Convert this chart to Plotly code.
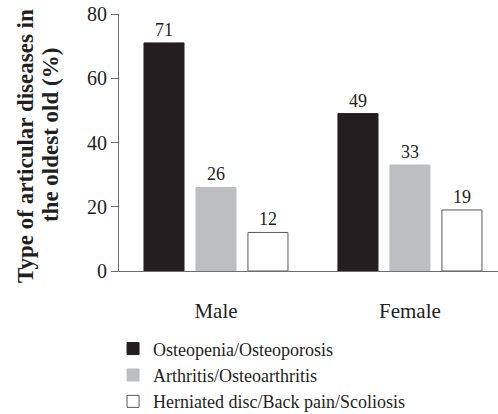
import plotly.graph_objects as go

categories = ["Male", "Female"]
series_names = ["Osteopenia/Osteoporosis", "Arthritis/Osteoarthritis", "Herniated disc/Back pain/Scoliosis"]
osteo = [71, 49]
arthritis = [26, 33]
herniated = [12, 19]
y_ticks = [0, 20, 40, 60, 80]
title_lines = ["Type of articular diseases in", "the oldest old (%)"]

FONT = "Liberation Serif"
TXT = "#231f20"

fills = ["#231f20", "#bcbec0", "#ffffff"]
edges = ["#231f20", "#bcbec0", "#58595b"]

fig = go.Figure()
for name, vals, fc, ec in zip(series_names, [osteo, arthritis, herniated], fills, edges):
    fig.add_trace(go.Bar(
        x=categories, y=vals, name=name,
        marker=dict(color=fc, line=dict(color=ec, width=1)),
        text=[str(v) for v in vals], textposition="outside",
        textfont=dict(family=FONT, size=18, color=TXT),
        cliponaxis=False,
    ))

fig.update_layout(
    width=498, height=414,
    margin=dict(l=119, r=0, t=14, b=143, autoexpand=False),
    paper_bgcolor="white", plot_bgcolor="white",
    barmode="group", bargap=0.196, bargroupgap=0.23,
    font=dict(family=FONT, size=18, color=TXT),
    showlegend=True,
    legend=dict(
        xref="container", yref="container",
        x=0.227, y=0.202, xanchor="left", yanchor="top",
        font=dict(family=FONT, size=18, color=TXT),
        bgcolor="rgba(0,0,0,0)", tracegroupgap=0,
    ),
)
fig.update_xaxes(
    range=[-0.5, 1.454], showline=True, linecolor="#6d6e71", linewidth=1,
    ticks="", showgrid=False, zeroline=False, automargin=False,
    tickfont=dict(family=FONT, size=21, color=TXT),
    ticklabelstandoff=21,
)
fig.update_yaxes(
    range=[0, 80], tickvals=y_ticks, showline=True, linecolor="#6d6e71", linewidth=1,
    ticks="outside", ticklen=7, tickcolor="#6d6e71", showgrid=False, zeroline=False,
    automargin=False, ticklabeloverflow="allow",
    tickfont=dict(family=FONT, size=20, color=TXT),
)
for txt, xp, yp in zip(title_lines, [-0.248, -0.182], [0.486, 0.529]):
    fig.add_annotation(
        text=f"<b>{txt}</b>", xref="paper", yref="paper", x=xp, y=yp,
        xanchor="center", yanchor="middle", textangle=-90, showarrow=False,
        font=dict(family=FONT, size=23, color=TXT),
    )

fig.write_html("out.html", config={"displayModeBar": False},
               post_script="document.body.style.margin='0';")
